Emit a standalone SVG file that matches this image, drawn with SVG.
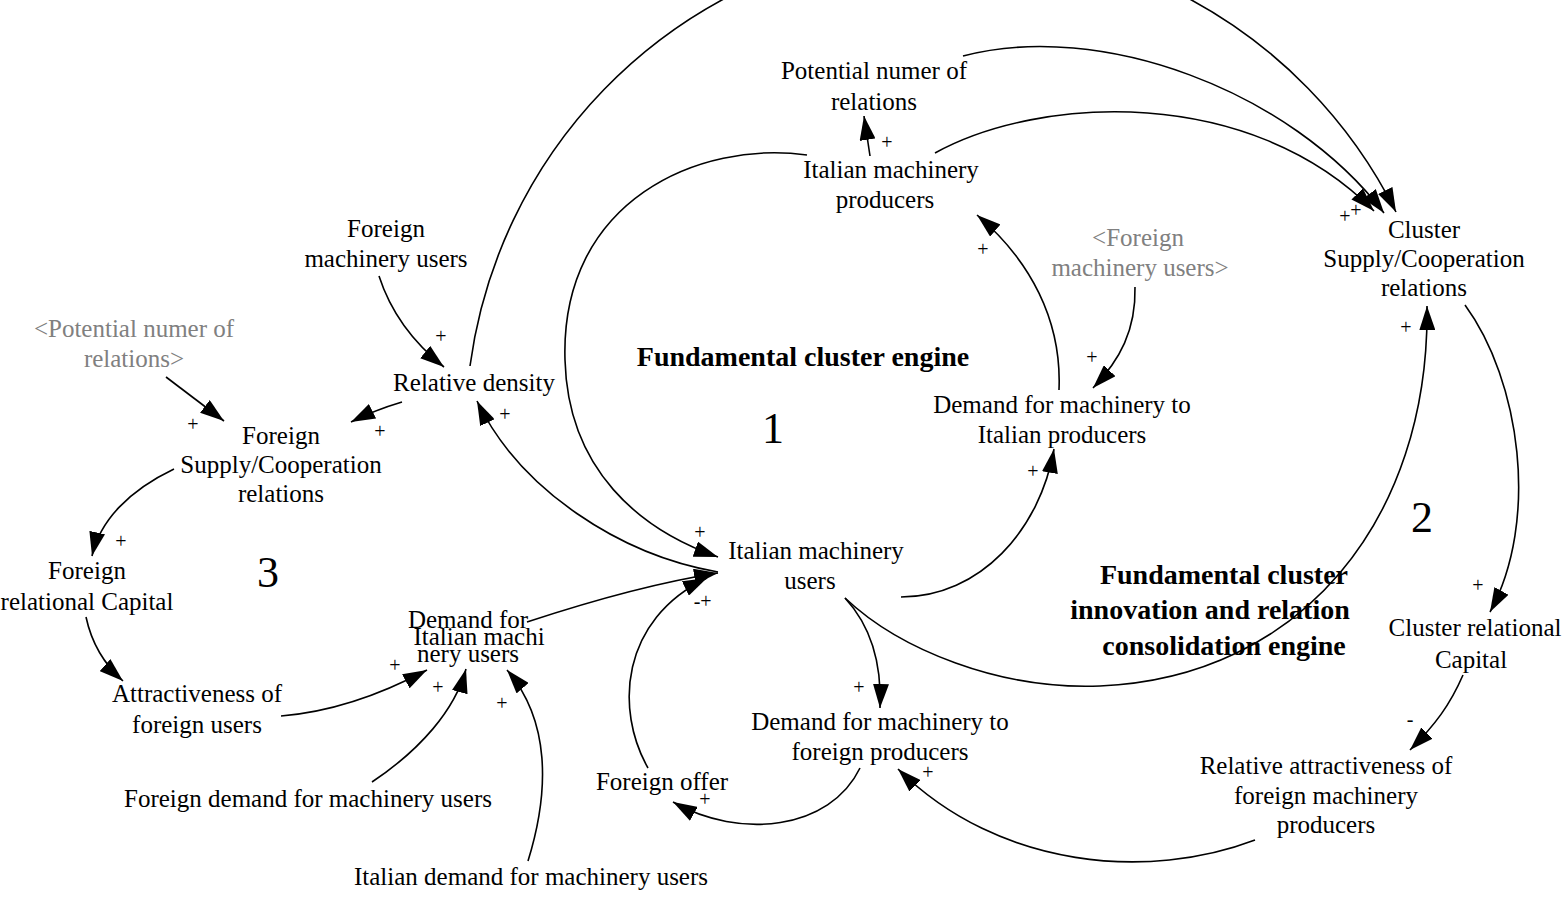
<svg xmlns="http://www.w3.org/2000/svg" width="1563" height="900" viewBox="0 0 1563 900">
<style>
  .n { font-family: "Liberation Serif", "Times New Roman", serif; font-size: 25px; fill: #000; text-anchor: middle; }
  .g { fill: #808080; }
  .b { font-family: "Liberation Serif", "Times New Roman", serif; font-size: 28px; font-weight: bold; fill: #000; text-anchor: middle; }
  .num { font-family: "Liberation Serif", "Times New Roman", serif; font-size: 44px; fill: #000; text-anchor: middle; }
  .p { font-family: "Liberation Serif", "Times New Roman", serif; font-size: 20px; fill: #000; text-anchor: middle; }
  .c { fill: none; stroke: #000; stroke-width: 1.6; }
  .a { marker-end: url(#arr); }
</style>
<defs>
  <marker id="arr" markerUnits="userSpaceOnUse" markerWidth="24" markerHeight="16" refX="24" refY="8" orient="auto">
    <path d="M0,0 L24,8 L0,16 Z" fill="#000"/>
  </marker>
</defs>
<rect width="1563" height="900" fill="#fff"/>

<g id="connectors">
  <path class="c a" d="M470,366 A491,491 0 0 1 1396,212"/>
  <path class="c a" d="M963,56 C1100,20 1290,90 1384,213"/>
  <path class="c a" d="M935,153 C1040,95 1250,85 1374,211"/>
  <path class="c a" d="M870,156 L864,116"/>
  <path class="c a" d="M807,155 C700,140 560,200 565,360 C568,470 640,530 718,557"/>
  <path class="c a" d="M718,572 C620,555 520,490 477,401"/>
  <path class="c a" d="M901,597 C980,597 1040,530 1054,449"/>
  <path class="c a" d="M1059,390 C1062,320 1030,260 977,215"/>
  <path class="c a" d="M1135,287 C1136,330 1120,360 1093,388"/>
  <path class="c a" d="M379,276 C390,310 410,340 444,367"/>
  <path class="c a" d="M402,402 Q375,410 351,422"/>
  <path class="c a" d="M166,377 L224,421"/>
  <path class="c a" d="M174,469 C130,490 100,520 92,556"/>
  <path class="c a" d="M86,617 C92,645 105,665 123,681"/>
  <path class="c a" d="M281,716 C330,712 380,695 427,670"/>
  <path class="c a" d="M372,782 C420,750 455,710 466,669"/>
  <path class="c a" d="M528,861 C550,790 550,720 507,670"/>
  <path class="c a" d="M527,622 C600,598 660,582 718,573"/>
  <path class="c a" d="M648,768 C615,710 620,620 707,578"/>
  <path class="c a" d="M845,598 C870,625 882,660 880,708"/>
  <path class="c a" d="M845,598 C900,650 1000,690 1100,686 C1300,678 1430,520 1427,306"/>
  <path class="c a" d="M1465,305 C1520,380 1540,520 1490,612"/>
  <path class="c a" d="M1463,675 C1450,705 1435,725 1410,750"/>
  <path class="c a" d="M1255,840 C1150,880 1000,870 898,769"/>
  <path class="c a" d="M860,768 C830,830 740,840 673,802"/>
</g>

<g id="polarities">
  <text class="p" x="887" y="149">+</text>
  <text class="p" x="983" y="256">+</text>
  <text class="p" x="1092" y="364">+</text>
  <text class="p" x="1345" y="223">+</text>
  <text class="p" x="1356" y="217">+</text>
  <text class="p" x="1406" y="334">+</text>
  <text class="p" x="441" y="343">+</text>
  <text class="p" x="505" y="421">+</text>
  <text class="p" x="380" y="438">+</text>
  <text class="p" x="193" y="431">+</text>
  <text class="p" x="121" y="548">+</text>
  <text class="p" x="700" y="539">+</text>
  <text class="p" x="697" y="608">-</text>
  <text class="p" x="706" y="608">+</text>
  <text class="p" x="1033" y="478">+</text>
  <text class="p" x="859" y="694">+</text>
  <text class="p" x="1478" y="592">+</text>
  <text class="p" x="1410" y="726">-</text>
  <text class="p" x="928" y="779">+</text>
  <text class="p" x="705" y="806">+</text>
  <text class="p" x="395" y="672">+</text>
  <text class="p" x="438" y="694">+</text>
  <text class="p" x="502" y="710">+</text>
</g>

<g id="potential-relations"><text class="n" x="874" y="79">Potential numer of</text><text class="n" x="874" y="110">relations</text></g>
<g id="italian-producers"><text class="n" x="891" y="178">Italian machinery</text><text class="n" x="885" y="208">producers</text></g>
<g id="cluster-supply"><text class="n" x="1424" y="238">Cluster</text><text class="n" x="1424" y="267">Supply/Cooperation</text><text class="n" x="1424" y="296">relations</text></g>
<g id="foreign-users-shadow"><text class="n g" x="1138" y="246">&lt;Foreign</text><text class="n g" x="1140" y="276">machinery users&gt;</text></g>
<g id="foreign-users"><text class="n" x="386" y="237">Foreign</text><text class="n" x="386" y="267">machinery users</text></g>
<g id="potential-shadow"><text class="n g" x="134" y="337">&lt;Potential numer of</text><text class="n g" x="134" y="367">relations&gt;</text></g>
<g id="relative-density"><text class="n" x="474" y="391">Relative density</text></g>
<g id="loop1-title"><text class="b" x="803" y="366">Fundamental cluster engine</text></g>
<g id="loop1-number"><text class="num" x="773" y="443">1</text></g>
<g id="demand-italian-producers"><text class="n" x="1062" y="413">Demand for machinery to</text><text class="n" x="1062" y="443">Italian producers</text></g>
<g id="foreign-supply"><text class="n" x="281" y="444">Foreign</text><text class="n" x="281" y="473">Supply/Cooperation</text><text class="n" x="281" y="502">relations</text></g>
<g id="foreign-capital"><text class="n" x="87" y="579">Foreign</text><text class="n" x="87" y="610">relational Capital</text></g>
<g id="loop3-number"><text class="num" x="268" y="587">3</text></g>
<g id="italian-users"><text class="n" x="816" y="559">Italian machinery</text><text class="n" x="810" y="589">users</text></g>
<g id="loop2-number"><text class="num" x="1422" y="532">2</text></g>
<g id="loop2-title"><text class="b" x="1224" y="584">Fundamental cluster</text><text class="b" x="1210" y="619">innovation and relation</text><text class="b" x="1224" y="655">consolidation engine</text></g>
<g id="demand-italian-users"><text class="n" x="468" y="628">Demand for</text><text class="n" x="479" y="645">Italian machi</text><text class="n" x="468" y="662">nery users</text></g>
<g id="attractiveness"><text class="n" x="197" y="702">Attractiveness of</text><text class="n" x="197" y="733">foreign users</text></g>
<g id="cluster-capital"><text class="n" x="1475" y="636">Cluster relational</text><text class="n" x="1471" y="668">Capital</text></g>
<g id="demand-foreign-producers"><text class="n" x="880" y="730">Demand for machinery to</text><text class="n" x="880" y="760">foreign producers</text></g>
<g id="relative-attractiveness"><text class="n" x="1326" y="774">Relative attractiveness of</text><text class="n" x="1326" y="804">foreign machinery</text><text class="n" x="1326" y="833">producers</text></g>
<g id="foreign-offer"><text class="n" x="662" y="790">Foreign offer</text></g>
<g id="foreign-demand"><text class="n" x="308" y="807">Foreign demand for machinery users</text></g>
<g id="italian-demand"><text class="n" x="531" y="885">Italian demand for machinery users</text></g>
</svg>
